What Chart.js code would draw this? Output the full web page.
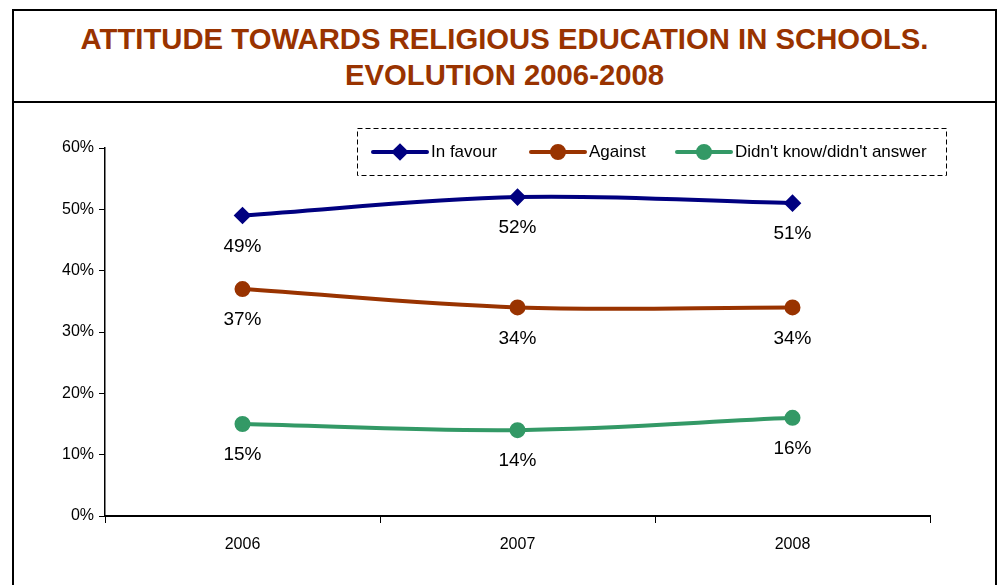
<!DOCTYPE html>
<html>
<head>
<meta charset="utf-8">
<script src="https://cdn.jsdelivr.net/npm/chart.js@4"></script>
<style>
  html, body { margin: 0; padding: 0; background: #fff; }
  body { width: 997px; height: 585px; position: relative; overflow: hidden; }
  .frame {
    position: absolute; left: 12px; top: 9px; width: 985px; height: 600px;
    box-sizing: border-box; border: 2px solid #000;
  }
  .title {
    height: 92px; box-sizing: border-box; border-bottom: 2px solid #000;
    overflow: hidden;
  }
  .title div {
    color: #993300; text-align: center; font-weight: bold;
    font-family: "Liberation Sans", Arial, sans-serif;
    font-size: 29.3px; line-height: 35px; margin-top: 8.5px;
    transform: scaleY(1.03); transform-origin: center top;
  }
  #chart { position: absolute; left: 0; top: 0; }
</style>
</head>
<body>
<div class="frame">
  <div class="title"><div>ATTITUDE TOWARDS RELIGIOUS EDUCATION IN SCHOOLS.<br>EVOLUTION 2006-2008</div></div>
</div>
<canvas id="chart" width="997" height="585"></canvas>
<script>
const years = ['2006', '2007', '2008'];
const inFavour = [49, 52, 51];
const against = [37, 34, 34];
const dontKnow = [15, 14, 16];
const seriesNames = ['In favour', 'Against', "Didn't know/didn't answer"];
const seriesColors = ['#000080', '#993300', '#339966'];
const seriesMarkers = ['rectRot', 'circle', 'circle'];

// value labels under every point
const valueLabels = {
  id: 'valueLabels',
  afterDatasetsDraw(chart) {
    const ctx = chart.ctx;
    ctx.save();
    ctx.font = '19px "Liberation Sans", Arial, sans-serif';
    ctx.fillStyle = '#000';
    ctx.textAlign = 'center';
    ctx.textBaseline = 'middle';
    chart.data.datasets.forEach((ds, i) => {
      chart.getDatasetMeta(i).data.forEach((pt, j) => {
        ctx.fillText(ds.data[j] + '%', pt.x, pt.y + 31);
      });
    });
    ctx.restore();
  }
};

// dashed legend box in the top right
const boxLegend = {
  id: 'boxLegend',
  afterDraw(chart) {
    const ctx = chart.ctx;
    const box = { x: 357.5, y: 128.5, w: 589, h: 47 };
    const starts = [373, 531, 677];
    const cy = box.y + box.h / 2;
    ctx.save();
    ctx.strokeStyle = '#000';
    ctx.lineWidth = 1;
    ctx.setLineDash([5, 3]);
    ctx.strokeRect(box.x, box.y, box.w, box.h);
    ctx.setLineDash([]);
    ctx.font = '17px "Liberation Sans", Arial, sans-serif';
    ctx.textBaseline = 'middle';
    chart.data.datasets.forEach((ds, i) => {
      const x0 = starts[i];
      ctx.strokeStyle = ds.borderColor;
      ctx.lineWidth = 4;
      ctx.lineCap = 'round';
      ctx.beginPath();
      ctx.moveTo(x0, cy);
      ctx.lineTo(x0 + 54, cy);
      ctx.stroke();
      Chart.helpers.drawPoint(ctx, {
        pointStyle: ds.pointStyle, radius: 6, borderWidth: 1
      }, x0 + 27, cy);
      ctx.fillStyle = ds.borderColor;
      ctx.fill();
      ctx.fillStyle = '#000';
      ctx.fillText(ds.label, x0 + 58, cy);
    });
    ctx.restore();
  }
};

const seriesData = [inFavour, against, dontKnow];

new Chart(document.getElementById('chart'), {
  type: 'line',
  data: {
    labels: years,
    datasets: seriesData.map((vals, i) => ({
      label: seriesNames[i],
      data: vals,
      borderColor: seriesColors[i],
      backgroundColor: seriesColors[i],
      pointBackgroundColor: seriesColors[i],
      pointBorderColor: seriesColors[i],
      pointStyle: seriesMarkers[i],
      pointRadius: 6,
      borderWidth: 4,
      tension: 0.35
    }))
  },
  options: {
    responsive: false,
    animation: false,
    layout: { padding: { top: 148, right: 67, left: 0, bottom: 0 } },
    plugins: {
      legend: { display: false },
      tooltip: { enabled: false }
    },
    scales: {
      x: {
        offset: true,
        afterFit(scale) { scale.height = 69; },
        grid: {
          offset: true, drawOnChartArea: false, tickLength: 7,
          color: '#000', lineWidth: 1
        },
        border: { display: true, color: '#000', width: 2 },
        ticks: {
          padding: 12, color: '#000',
          font: { family: '"Liberation Sans", Arial, sans-serif', size: 16 }
        }
      },
      y: {
        min: 0,
        max: 60,
        afterFit(scale) { scale.width = 105; },
        grid: { drawOnChartArea: false, tickLength: 6, color: '#000', lineWidth: 1 },
        border: { display: true, color: '#000', width: 1.5 },
        ticks: {
          stepSize: 10, padding: 5, color: '#000',
          font: { family: '"Liberation Sans", Arial, sans-serif', size: 16 },
          callback: v => v + '%'
        }
      }
    }
  },
  plugins: [valueLabels, boxLegend]
});
</script>
</body>
</html>
